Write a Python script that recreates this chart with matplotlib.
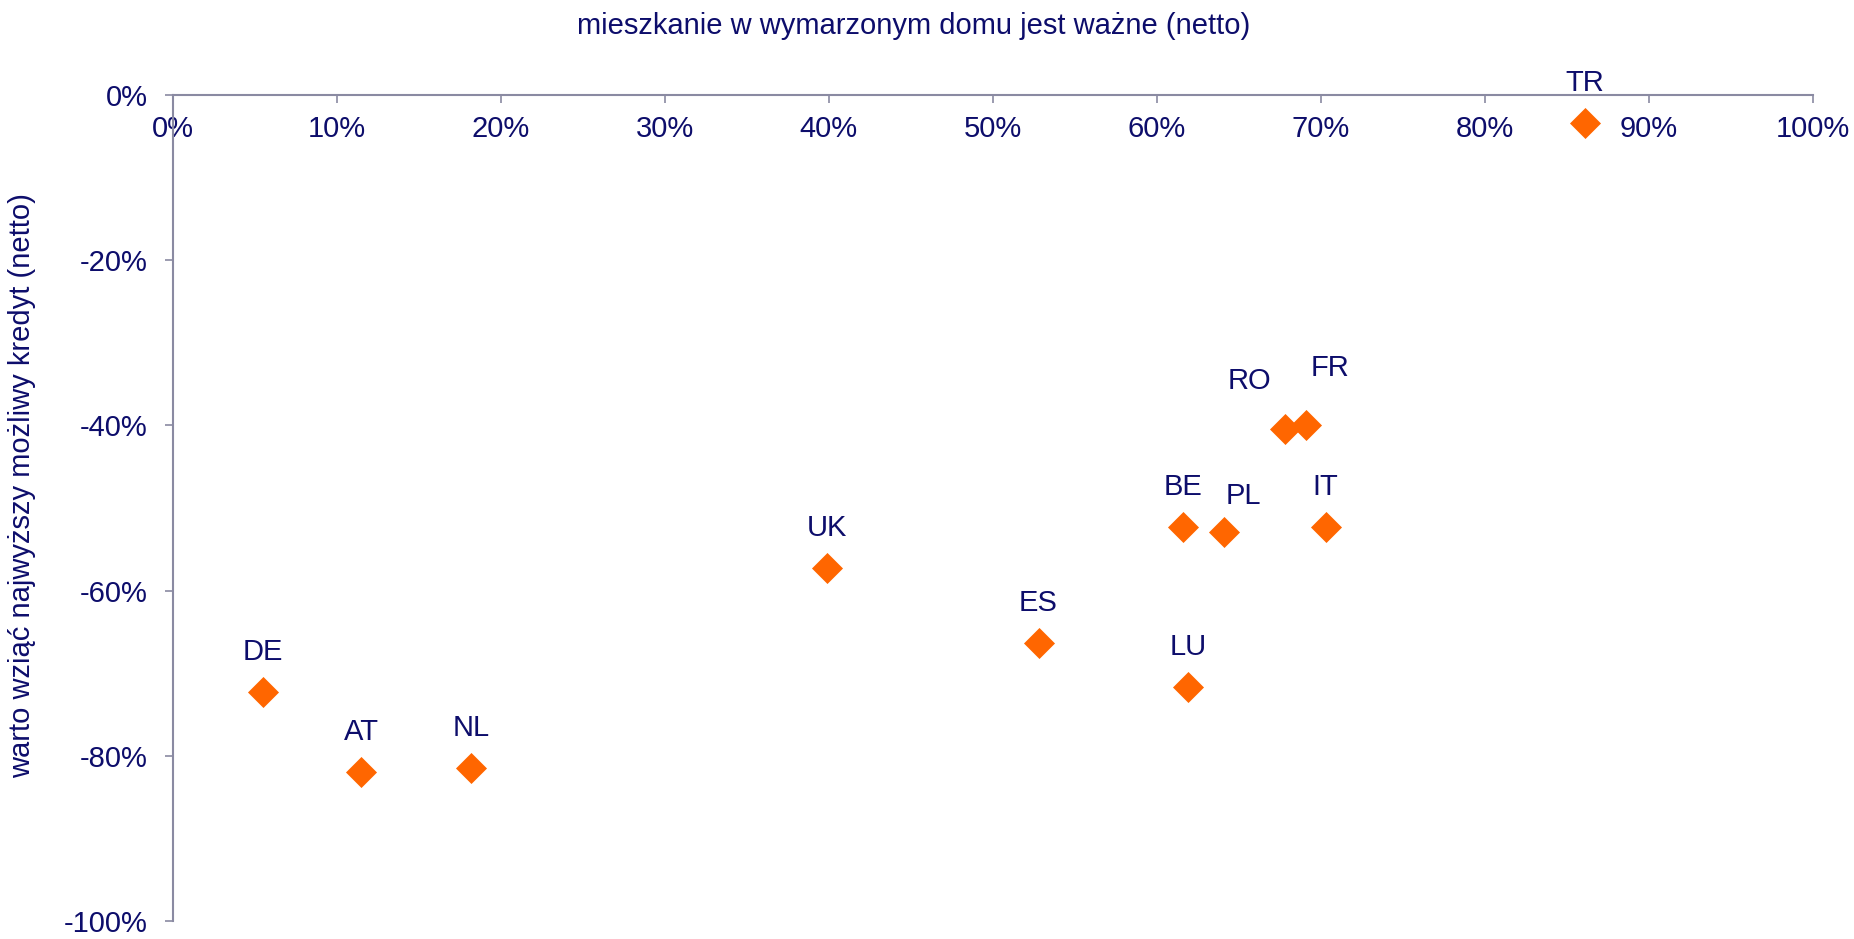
import matplotlib.pyplot as plt
from matplotlib.ticker import PercentFormatter, MultipleLocator

plt.rcParams['font.family'] = ['Liberation Sans', 'DejaVu Sans']
plt.rcParams['axes.unicode_minus'] = False

countries = ['TR', 'DE', 'AT', 'NL', 'UK', 'ES', 'LU', 'BE', 'PL', 'RO', 'FR', 'IT']
dream_home = [86.1, 5.5, 11.5, 18.2, 39.9, 52.8, 61.9, 61.6, 64.1, 67.8, 69.1, 70.3]
max_loan = [-3.4, -72.3, -81.9, -81.5, -57.3, -66.3, -71.7, -52.3, -52.9, -40.5, -40.0, -52.3]

# label offsets in pixels (default: straight above the point)
offsets = {'PL': (19, 36), 'RO': (-35, 48), 'FR': (24, 57)}

navy = '#0D0D6B'
axis_col = '#8A8AA2'
orange = '#FF6600'
fs = 21

fig = plt.figure(figsize=(18.54, 9.39), dpi=100)
ax = fig.add_axes([0.0931, 0.019, 0.8846, 0.8803])

ax.scatter(dream_home, max_loan, marker='D', s=250, color=orange, zorder=3, linewidths=0)

for name, x, y in zip(countries, dream_home, max_loan):
    dx, dy = offsets.get(name, (0, 40))
    ax.annotate(name, (x, y), xytext=(dx, dy), textcoords='offset pixels',
                ha='center', va='center', fontsize=fs, color=navy)

ax.set_xlim(0, 100)
ax.set_ylim(-100, 0)
ax.xaxis.set_major_locator(MultipleLocator(10))
ax.yaxis.set_major_locator(MultipleLocator(20))
ax.xaxis.set_major_formatter(PercentFormatter(decimals=0))
ax.yaxis.set_major_formatter(PercentFormatter(decimals=0))

ax.spines['bottom'].set_position(('data', 0))
ax.spines['top'].set_visible(False)
ax.spines['right'].set_visible(False)
for s in ('bottom', 'left'):
    ax.spines[s].set_color(axis_col)
    ax.spines[s].set_linewidth(1.5)

ax.tick_params(axis='both', direction='out', length=6, width=1.2, color=axis_col,
               labelsize=fs, labelcolor=navy)
ax.tick_params(axis='x', pad=9)
ax.tick_params(axis='y', pad=12)

fig.text(0.493, 0.972, 'mieszkanie w wymarzonym domu jest ważne (netto)',
         ha='center', va='center', fontsize=fs, color=navy)
fig.text(0.012, 0.483, 'warto wziąć najwyższy możliwy kredyt (netto)',
         ha='center', va='center', rotation=90, fontsize=fs, color=navy)

fig.savefig('out.png', dpi=100)
